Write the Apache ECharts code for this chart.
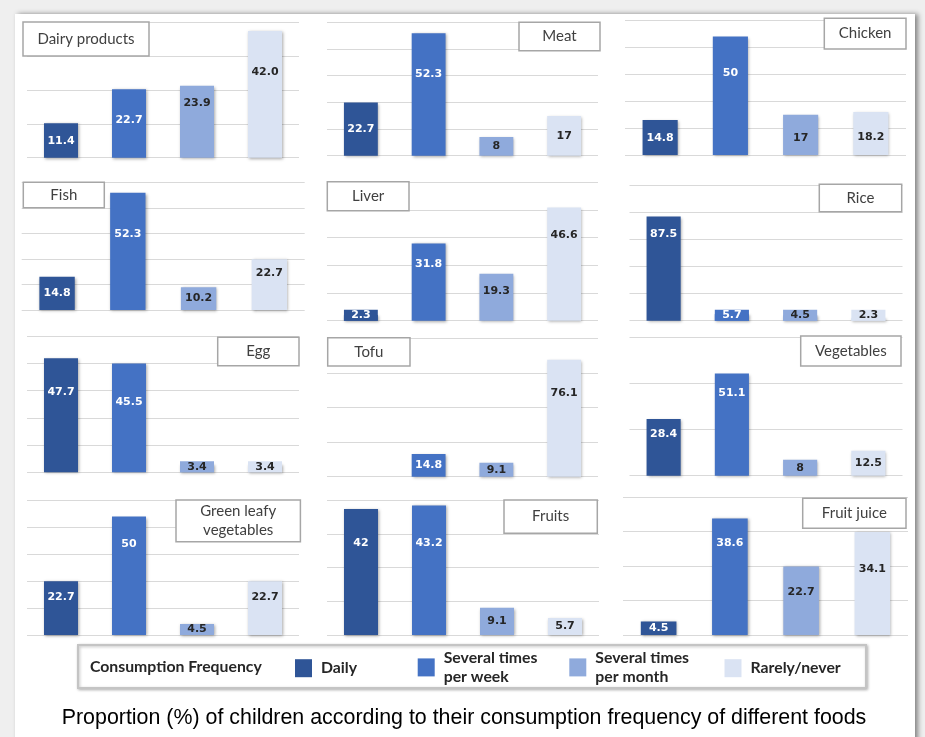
<!DOCTYPE html>
<html>
<head>
<meta charset="utf-8">
<title>Consumption frequency of different foods</title>
<script src="https://cdn.jsdelivr.net/npm/echarts@6/dist/echarts.min.js"></script>
<style>
  html, body { margin: 0; padding: 0; background: #efefef; }
  #main { width: 925px; height: 737px; }
</style>
</head>
<body>
<div id="main"></div>
<script>
// ---- data ----
const FOODS = ['Dairy products', 'Meat', 'Chicken', 'Fish', 'Liver', 'Rice',
               'Egg', 'Tofu', 'Vegetables', 'Green leafy\nvegetables', 'Fruits', 'Fruit juice'];
const FREQUENCIES = ['Daily', 'Several times per week', 'Several times per month', 'Rarely/never'];

// percentage of children per food, one array per frequency (same order as FOODS)
const daily           = [11.4, 22.7, 14.8, 14.8,  2.3, 87.5, 47.7, null, 28.4, 22.7, 42.0,  4.5];
const severalPerWeek  = [22.7, 52.3, 50.0, 52.3, 31.8,  5.7, 45.5, 14.8, 51.1, 50.0, 43.2, 38.6];
const severalPerMonth = [23.9,  8.0, 17.0, 10.2, 19.3,  4.5,  3.4,  9.1,  8.0,  4.5,  9.1, 22.7];
const rarelyNever     = [42.0, 17.0, 18.2, 22.7, 46.6,  2.3,  3.4, 76.1, 12.5, 22.7,  5.7, 34.1];

// decimals shown in the value labels (null = as is)
const LABEL_DECIMALS = [1, null, null, null, null, null, null, null, null, null, null, null];

// ---- layout & style ----
const COLORS = ['#2F5597', '#4472C4', '#8FAADC', '#DAE3F3'];
const LABEL_COLORS = ['#ffffff', '#ffffff', '#262626', '#262626'];

// panel plot areas: left, top, width, height, axis max, number of gridline intervals
const PANELS = [
  [27,    22,    272, 135.7,  45,  4],
  [327,   22.3,  271, 133.4,  57,  5],
  [625,   20,    281, 135,    57,  5],
  [21.7,  182.3, 283, 127.7,  57,  5],
  [327,   182.3, 271, 138.4,  57,  5],
  [629.5, 185,   273, 135.7, 114,  5],
  [27,    336,   272, 136.3,  57,  5],
  [327,   338.3, 271, 138.4,  90,  4],
  [629.5, 337.7, 273, 138,    69,  3],
  [27,    500,   272, 135,    57,  5],
  [327,   500,   272, 135,    45,  4],
  [623,   497.3, 285, 137.7, 45.6, 4]
];

// panel name boxes: x0, y0, x1, y1
const NAME_BOXES = [
  [23, 22, 149, 56], [519, 22.3, 600, 50.7], [824.3, 18.3, 906, 49],
  [23.3, 182.3, 104.3, 207.7], [327.3, 181.7, 409, 210.7], [819.3, 184.3, 901.7, 211.7],
  [217.7, 337.3, 299, 365.7], [327.7, 337.7, 410, 366], [800.7, 336, 901, 366],
  [176, 500, 300.4, 541.7], [504, 500, 597.3, 533.3], [802.7, 498.3, 906, 528.3]
];

// distance (px) from the top of a bar down to its value label; null = centred
const LABEL_DROP = [
  [17.7, 31, 17.3, 40.7],
  [27, 41, null, 20],
  [18, 36.7, 23, 25.6],
  [16, 41.7, null, 14],
  [null, 21, 17.7, 27.7],
  [17.6, null, null, null],
  [33.7, 38.4, null, null],
  [null, null, null, 33.3],
  [15.6, 19.4, null, null],
  [15.7, 27.3, null, 15.7],
  [34.3, 37.7, null, null],
  [null, 25, 26, 37.3]
];

const LEGEND_LEFT = [295, 417.7, 569.3, 724.5];
const LEGEND_TOP = [659, 649, 649, 659];

const valuesByFreq = [daily, severalPerWeek, severalPerMonth, rarelyNever];

function makeItem(v, p, k) {
  const [, , width, height, max] = PANELS[p];
  const barH = v / max * height;
  const barW = width / 4 * 0.5;
  const text = LABEL_DECIMALS[p] != null ? v.toFixed(LABEL_DECIMALS[p]) : String(v);
  const label = {
    show: true,
    formatter: text,
    fontFamily: 'DejaVu Sans',
    fontWeight: 'bold',
    fontSize: 11,
    color: LABEL_COLORS[k],
    align: 'center',
    verticalAlign: 'middle'
  };
  if (barH < 11) {
    Object.assign(label, {
      position: ['50%', '100%'],
      verticalAlign: 'bottom',
      backgroundColor: COLORS[k],
      width: barW,
      height: 11,
      lineHeight: 11,
      padding: 0
    });
  } else {
    const drop = LABEL_DROP[p][k];
    label.position = ['50%', drop == null ? '50%' : drop];
  }
  return { value: v, label };
}

const grids = [], xAxes = [], yAxes = [], series = [];
PANELS.forEach((panel, p) => {
  const [left, top, width, height, max, splits] = panel;
  grids.push({ left, top, width, height });
  xAxes.push({
    type: 'category', gridIndex: p, data: FREQUENCIES,
    axisLine: { show: false }, axisTick: { show: false }, axisLabel: { show: false },
    splitLine: { show: false }
  });
  yAxes.push({
    type: 'value', gridIndex: p, min: 0, max, interval: max / splits,
    axisLine: { show: false }, axisTick: { show: false }, axisLabel: { show: false },
    splitLine: { lineStyle: { color: '#d9d9d9', width: 1 } }
  });
  FREQUENCIES.forEach((f, k) => {
    const v = valuesByFreq[k][p];
    series.push({
      type: 'bar',
      name: f,
      xAxisIndex: p,
      yAxisIndex: p,
      barWidth: '50%',
      barGap: '-100%',
      itemStyle: {
        color: COLORS[k],
        shadowBlur: 3,
        shadowColor: 'rgba(0,0,0,0.35)',
        shadowOffsetX: 1,
        shadowOffsetY: 1
      },
      emphasis: { disabled: true },
      data: FREQUENCIES.map((_, j) => (j === k && v != null) ? makeItem(v, p, k) : '-')
    });
  });
});

// page, panel names, legend frame and caption
const graphics = [
  {
    type: 'rect', z: -10, silent: true,
    shape: { x: 15, y: 14, width: 900, height: 740 },
    style: { fill: '#ffffff', shadowBlur: 5, shadowColor: 'rgba(0,0,0,0.45)', shadowOffsetX: 3, shadowOffsetY: 0 }
  }
];
NAME_BOXES.forEach((b, i) => {
  const [x0, y0, x1, y1] = b;
  graphics.push({
    type: 'rect', z: 50, silent: true,
    shape: { x: x0, y: y0, width: x1 - x0, height: y1 - y0 },
    style: { fill: '#ffffff', stroke: '#a6a6a6', lineWidth: 1.5 }
  });
  graphics.push({
    type: 'text', z: 51, silent: true,
    x: (x0 + x1) / 2, y: (y0 + y1) / 2,
    style: {
      text: FOODS[i], fontFamily: 'Lato', fontSize: 15, fill: '#404040',
      align: 'center', verticalAlign: 'middle', textAlign: 'center', textVerticalAlign: 'middle',
      lineHeight: 19
    }
  });
});
graphics.push({
  type: 'rect', z: 5, silent: true,
  shape: { x: 78, y: 645, width: 788, height: 43 },
  style: { fill: '#ffffff', stroke: '#c4c4c4', lineWidth: 2,
           shadowBlur: 3, shadowColor: 'rgba(0,0,0,0.25)', shadowOffsetX: 1, shadowOffsetY: 1 }
});
graphics.push({
  type: 'text', z: 6, silent: true, x: 90, y: 667,
  style: {
    text: 'Consumption Frequency', fontFamily: 'Lato', fontWeight: 'bold', fontSize: 15.8,
    fill: '#262626', align: 'left', verticalAlign: 'middle', textAlign: 'left', textVerticalAlign: 'middle'
  }
});
graphics.push({
  type: 'text', z: 6, silent: true, x: 464, y: 718,
  style: {
    text: 'Proportion (%) of children according to their consumption frequency of different foods',
    fontFamily: 'Liberation Sans', fontSize: 21.4, fill: '#000000',
    align: 'center', verticalAlign: 'middle', textAlign: 'center', textVerticalAlign: 'middle'
  }
});

const legends = FREQUENCIES.map((f, k) => ({
  data: [f],
  left: LEGEND_LEFT[k],
  top: LEGEND_TOP[k],
  padding: 0,
  z: 10,
  selectedMode: false,
  icon: 'rect',
  itemWidth: 17,
  itemHeight: 18,
  formatter: name => name.replace(' per ', '\nper '),
  textStyle: {
    fontFamily: 'Lato', fontWeight: 'bold', fontSize: 15.8, color: '#262626',
    lineHeight: 18.4, padding: [0, 0, 0, 4]
  }
}));

const chart = echarts.init(document.getElementById('main'), null, { renderer: 'canvas' });
chart.setOption({
  backgroundColor: '#efefef',
  animation: false,
  tooltip: { show: false },
  legend: legends,
  grid: grids,
  xAxis: xAxes,
  yAxis: yAxes,
  series,
  graphic: graphics
});
</script>
</body>
</html>
